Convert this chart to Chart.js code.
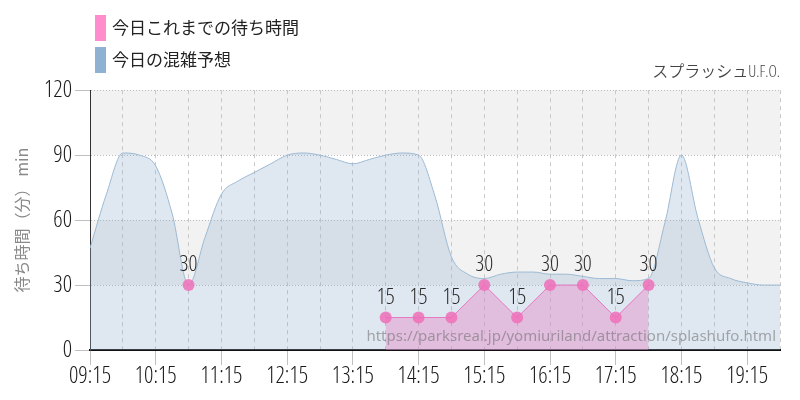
<!DOCTYPE html>
<html><head><meta charset="utf-8">
<script src="https://cdn.jsdelivr.net/npm/chart.js@4"></script>
<style>html,body{margin:0;padding:0;background:#fff}</style>
</head><body>
<canvas id="c" width="800" height="400"></canvas>
<script>
const chartTitle = 'スプラッシュU.F.O.';
const seriesLabels = ['今日これまでの待ち時間', '今日の混雑予想'];
const yAxisTitle = '待ち時間（分） min';
const sourceUrl = 'https://parksreal.jp/yomiuriland/attraction/splashufo.html';

const actualTimes  = ['10:45','11:00','13:45','14:15','14:45','15:15','15:45','16:15','16:45','17:15','17:45'];
const actualValues = [30, null, 15, 15, 15, 30, 15, 30, 30, 15, 30];

const forecastTimes = ['09:15','09:30','09:45','10:00','10:15','10:30','10:45','11:00','11:15','11:30','11:45',
  '12:00','12:15','12:30','12:45','13:00','13:15','13:30','13:45','14:00','14:15','14:30','14:45',
  '15:00','15:15','15:30','15:45','16:00','16:15','16:30','16:45','17:00','17:15','17:30','17:45',
  '18:00','18:15','18:30','18:45','19:00','19:15','19:30','19:45'];
const forecastValues = [47,72,91,90,85,63,30,52,72,78,82,
  86,90,91,90,88,86,88,90,91,90,71,43,
  35,33,35,36,36,35,35,34,33,33,32,33,
  59,90,61,38,33,31,30,30];

const yTicks = [0, 30, 60, 90, 120];
const xStart = '09:15', xEnd = '19:45';

const toMin = s => { const [h, m] = s.split(':').map(Number); return h * 60 + m; };
const fmt = v => String(Math.floor(v / 60)).padStart(2, '0') + ':' + String(v % 60).padStart(2, '0');
const X0 = toMin(xStart), X1 = toMin(xEnd);

const NUM_FONT = "'Open Sans','Noto Sans CJK JP',sans-serif";
const JP_FONT = "'Noto Sans CJK JP','Noto Sans',sans-serif";

const bandsPlugin = {
  id: 'bands',
  beforeDraw(chart) {
    const {ctx, chartArea: a, scales: {y}} = chart;
    ctx.save();
    ctx.fillStyle = '#f2f2f2';
    [[90, 120], [30, 60]].forEach(([lo, hi]) => {
      const t = y.getPixelForValue(hi), b = y.getPixelForValue(lo);
      ctx.fillRect(a.left, t, a.right - a.left, b - t);
    });
    ctx.restore();
  }
};

const labelsPlugin = {
  id: 'labels',
  afterDatasetsDraw(chart) {
    const {ctx, chartArea: a} = chart;
    ctx.save();
    ctx.font = "15px 'Noto Sans','Open Sans',sans-serif";
    ctx.fillStyle = 'rgba(105,105,105,0.55)';
    ctx.textAlign = 'right';
    ctx.textBaseline = 'middle';
    ctx.fillText(sourceUrl, a.right - 4, a.bottom - 13);
    const meta = chart.getDatasetMeta(0);
    ctx.font = '350 condensed 22px ' + NUM_FONT;
    ctx.fillStyle = '#2a2a2a';
    ctx.textAlign = 'center';
    meta.data.forEach((pt, i) => {
      const v = chart.data.datasets[0].data[i].y;
      if (v == null) return;
      ctx.fillText(String(v), pt.x, pt.y - 20);
    });
    ctx.restore();
  }
};

const legendPlugin = {
  id: 'customLegend',
  afterDraw(chart) {
    const {ctx} = chart;
    ctx.save();
    ctx.font = '17px ' + JP_FONT;
    ctx.textBaseline = 'middle';
    ctx.textAlign = 'left';
    chart.data.datasets.forEach((ds, i) => {
      const top = 15 + i * 32;
      ctx.fillStyle = ds.legendColor;
      ctx.fillRect(95, top, 11, 26);
      ctx.fillStyle = '#222';
      ctx.fillText(ds.label, 112, top + 13);
    });
    ctx.restore();
  }
};

new Chart(document.getElementById('c'), {
  type: 'line',
  data: {
    datasets: [
      {
        label: seriesLabels[0],
        data: actualTimes.map((t, i) => ({x: toMin(t), y: actualValues[i]})),
        legendColor: '#ff8ccc',
        borderColor: 'rgba(230,110,190,0.9)',
        borderWidth: 1,
        backgroundColor: 'rgba(230,140,200,0.45)',
        fill: 'origin',
        tension: 0,
        spanGaps: false,
        pointRadius: 6,
        pointHoverRadius: 6,
        pointBorderWidth: 0,
        pointBackgroundColor: 'rgba(238,110,185,0.85)'
      },
      {
        label: seriesLabels[1],
        data: forecastTimes.map((t, i) => ({x: toMin(t), y: forecastValues[i]})),
        legendColor: '#8fb2d2',
        borderColor: '#9dbad4',
        borderWidth: 1,
        backgroundColor: 'rgba(148,180,210,0.3)',
        fill: 'origin',
        cubicInterpolationMode: 'monotone',
        pointRadius: 0,
        pointHoverRadius: 0
      }
    ]
  },
  options: {
    responsive: false,
    animation: false,
    events: [],
    layout: {padding: {left: 0, right: 20, top: 0, bottom: 0}},
    plugins: {
      legend: {display: false},
      tooltip: {enabled: false},
      title: {
        display: true, text: chartTitle, align: 'end', color: '#444',
        font: {family: NUM_FONT, size: 16, weight: '350 condensed'},
        padding: {top: 63, bottom: 8}
      }
    },
    scales: {
      x: {
        type: 'linear', min: X0, max: X1,
        afterBuildTicks(s) {
          const t = [];
          for (let v = X0; v <= X1; v += 30) t.push({value: v});
          s.ticks = t;
        },
        afterFit(s) { s.height = 50; },
        ticks: {
          autoSkip: false, maxRotation: 0, padding: -2,
          color: '#1a1a1a',
          font: {family: NUM_FONT, size: 23, weight: '350 condensed'},
          callback: v => ((v - X0) % 60 === 0 ? fmt(v) : '')
        },
        grid: {
          color: '#c8c8c8', lineWidth: 1, tickLength: 15,
          tickColor: c => (c.tick && (c.tick.value - X0) % 60 === 0 ? '#c0c0c0' : 'rgba(0,0,0,0)')
        },
        border: {color: '#111', width: 2, dash: [4, 4]}
      },
      y: {
        min: yTicks[0], max: yTicks[yTicks.length - 1],
        afterBuildTicks(s) { s.ticks = yTicks.map(v => ({value: v})); },
        afterFit(s) { s.width = 90; },
        ticks: {color: '#1a1a1a', padding: 3, font: {family: NUM_FONT, size: 23, weight: '350 condensed'}},
        grid: {color: '#bbb', lineWidth: 1, tickLength: 15, tickColor: '#c0c0c0'},
        border: {color: '#333', width: 1, dash: [1, 2]},
        title: {
          display: true, text: yAxisTitle, color: '#888',
          font: {family: JP_FONT, size: 16, weight: 'normal'},
          padding: {top: 12, bottom: 0}
        }
      }
    }
  },
  plugins: [bandsPlugin, labelsPlugin, legendPlugin]
});
</script>
</body></html>
